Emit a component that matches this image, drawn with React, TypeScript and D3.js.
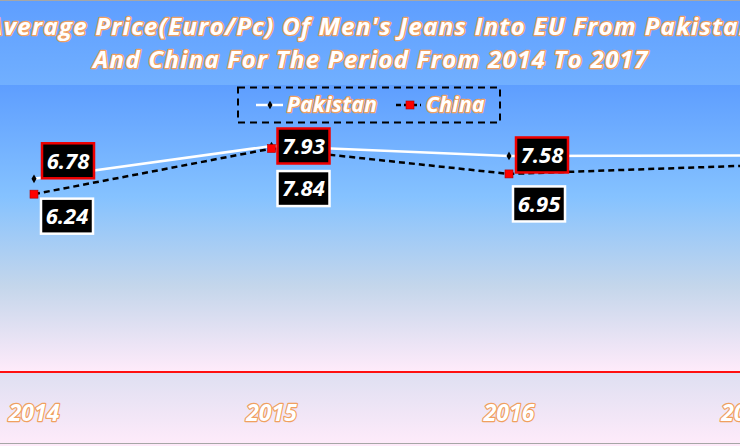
import React from "react";
import * as d3 from "d3";

const categories = ["2014", "2015", "2016", "2017"];
const pakistan = [6.78, 7.93, 7.58, 7.6];
const china = [6.24, 7.84, 6.95, 7.24];
const yDomain = [0, 10];
const titleLines = [
  "Average Price(Euro/Pc) Of Men's Jeans Into EU From Pakistan",
  "And China For The Period From 2014 To 2017",
];
const seriesNames = ["Pakistan", "China"];
// label box offsets relative to each point (presentation only)
const pakLabelShift = [[34, -18], [32, 0], [33, -1], [33, 0]];
const chinaLabelShift = [[33, 22], [32, 40], [30, 30], [30, 30]];

const W = 740;
const H = 446;
const FONT = "'Open Sans', Lato, sans-serif";

export default function App() {
  const x = d3.scaleBand<string>().domain(categories).range([-84.75, 865.25]).padding(0);
  const cx = (c: string) => (x(c) as number) + x.bandwidth() / 2;
  const y = d3.scaleLinear().domain(yDomain).range([372, 87]);
  const plotTop = 85;
  const plotBottom = y(0);

  const line = d3
    .line<number>()
    .x((_, i) => cx(categories[i]))
    .y((d) => y(d));

  const diamond = d3.symbol().type(d3.symbolDiamond).size(22)() as string;

  const outlined = {
    fill: "#ffffff",
    stroke: "#f0a060",
    strokeWidth: 2.6,
    strokeLinejoin: "round" as const,
    paintOrder: "stroke" as const,
    fontFamily: FONT,
    fontStyle: "italic",
    fontWeight: 700,
  };

  const bw = 52;
  const bh = 35;

  const labelBox = (v: number, i: number, shift: number[], border: string, key: string) => {
    const px = cx(categories[i]);
    const py = y(v);
    const bx = px + shift[0];
    const by = py + shift[1];
    if (bx - bw / 2 > W) return null;
    return (
      <g key={key}>
        <rect x={bx - bw / 2} y={by - bh / 2} width={bw} height={bh} fill="#000" stroke={border} strokeWidth={2.5} />
        <text
          x={bx}
          y={by}
          dy="0.36em"
          textAnchor="middle"
          fill="#fff"
          fontFamily={FONT}
          fontStyle="italic"
          fontWeight={700}
          fontSize={22}
        >
          {v.toFixed(2)}
        </text>
      </g>
    );
  };

  return (
    <svg
      width={W}
      height={H}
      viewBox={`0 0 ${W} ${H}`}
      style={{ position: "absolute", left: 0, top: 0, display: "block" }}
    >
      <defs>
        <linearGradient id="bgGrad" x1="0" y1="0" x2="0" y2="1">
          <stop offset="0" stopColor="#5E9EFF" />
          <stop offset="0.39" stopColor="#85C2FF" />
          <stop offset="0.7" stopColor="#C4D6EB" />
          <stop offset="1" stopColor="#FFEBFA" />
        </linearGradient>
        <linearGradient id="plotGrad" x1="0" y1="0" x2="0" y2="1">
          <stop offset="0" stopColor="#5E9EFF" />
          <stop offset="0.39" stopColor="#85C2FF" />
          <stop offset="0.7" stopColor="#C4D6EB" />
          <stop offset="1" stopColor="#FFEBFA" />
        </linearGradient>
      </defs>

      <rect x={0} y={0} width={W} height={H} fill="url(#bgGrad)" />
      <rect x={0} y={plotTop} width={W} height={plotBottom - plotTop} fill="url(#plotGrad)" />
      <line x1={0} x2={W} y1={0.5} y2={0.5} stroke="#a6a6a6" strokeWidth={1} />
      <line x1={0} x2={W} y1={443.5} y2={443.5} stroke="#a6a6a6" strokeWidth={1} />

      {/* axis line */}
      <line x1={0} x2={W} y1={plotBottom} y2={plotBottom} stroke="#ff1010" strokeWidth={2.2} />

      {/* series lines */}
      <path d={line(pakistan) as string} fill="none" stroke="#ffffff" strokeWidth={2.5} />
      <path d={line(china) as string} fill="none" stroke="#000000" strokeWidth={2.5} strokeDasharray="6 4" />

      {pakistan.map((v, i) => (
        <path key={"pm" + i} d={diamond} transform={`translate(${cx(categories[i])},${y(v)})`} fill="#000" />
      ))}
      {china.map((v, i) => (
        <rect
          key={"cm" + i}
          x={cx(categories[i]) - 4}
          y={y(v) - 4}
          width={8}
          height={8}
          fill="#ff0000"
          stroke="#b00000"
          strokeWidth={0.6}
        />
      ))}

      {pakistan.map((v, i) => labelBox(v, i, pakLabelShift[i], "#ee0000", "pl" + i))}
      {china.map((v, i) => labelBox(v, i, chinaLabelShift[i], "#ffffff", "cl" + i))}

      {/* legend */}
      <rect x={238} y={87.5} width={262} height={35} fill="none" stroke="#000" strokeWidth={2} strokeDasharray="7 5" />
      <line x1={256} x2={283} y1={105} y2={105} stroke="#fff" strokeWidth={2.5} />
      <path d={diamond} transform="translate(270,105)" fill="#000" />
      <text x={287} y={112} fontSize={21} letterSpacing={0.4} style={outlined}>
        {seriesNames[0]}
      </text>
      <line x1={396} x2={421} y1={105} y2={105} stroke="#000" strokeWidth={2.5} strokeDasharray="5 3" />
      <rect x={406} y={101} width={8} height={8} fill="#ff0000" stroke="#b00000" strokeWidth={0.6} />
      <text x={426} y={112} fontSize={21} letterSpacing={0.4} style={outlined}>
        {seriesNames[1]}
      </text>

      {/* title */}
      {titleLines.map((t, i) => (
        <text key={"t" + i} x={371} y={35 + i * 33} textAnchor="middle" fontSize={24} letterSpacing={1.3} style={outlined}>
          {t}
        </text>
      ))}

      {/* category axis labels */}
      {categories.map((c) => (
        <text key={"x" + c} x={cx(c)} y={421} textAnchor="middle" fontSize={23} style={{ ...outlined, strokeWidth: 2.4 }}>
          {c}
        </text>
      ))}
    </svg>
  );
}
